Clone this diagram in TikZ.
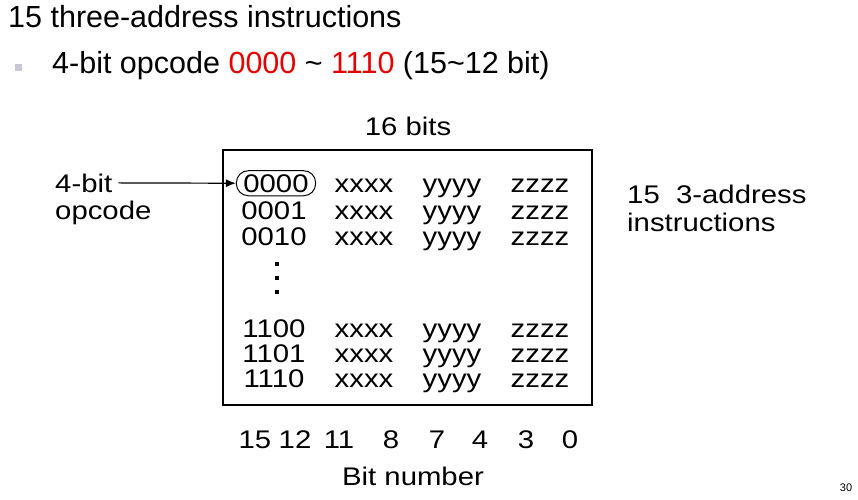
\documentclass[tikz,border=0pt]{standalone}
\usepackage{xcolor}
\usepackage{fontspec}
\usetikzlibrary{arrows.meta}
\setmainfont{Liberation Sans}
\newfontfamily\figfont[FakeStretch=1.15]{Liberation Sans}
\definecolor{opred}{RGB}{230,0,0}
\definecolor{bulletgray}{RGB}{200,200,216}

\begin{document}
\begin{tikzpicture}[x=1pt, y=-1pt,
                        slide/.style={anchor=base west, inner sep=0pt, font=\fontsize{30.5}{36}\selectfont},
                        fig/.style={anchor=base, inner sep=0pt, font=\figfont\fontsize{25.5}{30}\selectfont},
                        figleft/.style={fig, anchor=base west},
                        dot/.style={fill, inner sep=0pt, minimum size=4.5pt}]
                        \useasboundingbox (0,0) rectangle (858,499);

                        \node [slide] (title) at (8,27) {15 three-address instructions};
                        \node [fill=bulletgray, inner sep=0pt, minimum size=7pt] (bul) at (18.5,67.5) {};
                        \node [slide] (sub) at (52,73) {4-bit opcode \textcolor{opred}{0000} \textasciitilde{} \textcolor{opred}{1110} (15\textasciitilde 12 bit)};

                        \node [draw, line width=2.2pt, minimum width=369pt, minimum height=255pt, inner sep=0pt] (frame) at (407.5,277.5) {};
                        \node [fig] (width) at (408,135) {16 bits};

                        %\draw (frame.north west) -- (frame.south east);

                        \node [fig, draw, line width=1pt, rounded corners=12pt, inner xsep=7pt, inner ysep=3.5pt] (op1) at (276,192) {0000};
                        \foreach \op/\row/\yy in {0001/2/219, 0010/3/245, 1100/4/337, 1101/5/362, 1110/6/387}
                            \node [fig] (op\row) at (274,\yy) {\op};
                        \foreach \row/\yy in {1/192, 2/219, 3/245, 4/337, 5/362, 6/387} {
                            \node [fig] (x\row) at (364,\yy) {xxxx};
                            \node [fig] (y\row) at (452,\yy) {yyyy};
                            \node [fig] (z\row) at (540,\yy) {zzzz};
                        }
                        \foreach \i/\yy in {1/264, 2/278, 3/292}
                            \node [dot] (dot\i) at (277,\yy) {};

                        \node [figleft] (lbl) at (55,192) {4-bit};
                        \node [figleft] (lblop) at (55,219) {opcode};
                        \draw [-{Latex[length=10pt,width=8pt]}, line width=1.2pt] ([xshift=6pt]lbl.east) -- (op1.west);

                        \node [figleft] (count) at (627,203) {15\ \ 3-address};
                        \node [figleft] (count2) at (627,231) {instructions};

                        \foreach \b/\xx in {15/255, 12/295, 11/339, 8/391, 7/437, 4/480, 3/526, 0/570}
                            \node [fig] (bit\b) at (\xx,448) {\b};
                        \node [fig] (bitnum) at (413,485) {Bit number};

                        \node [anchor=base, inner sep=0pt, font=\fontsize{11}{13}\selectfont] (page) at (846,491) {30};
                    \end{tikzpicture}
\end{document}
